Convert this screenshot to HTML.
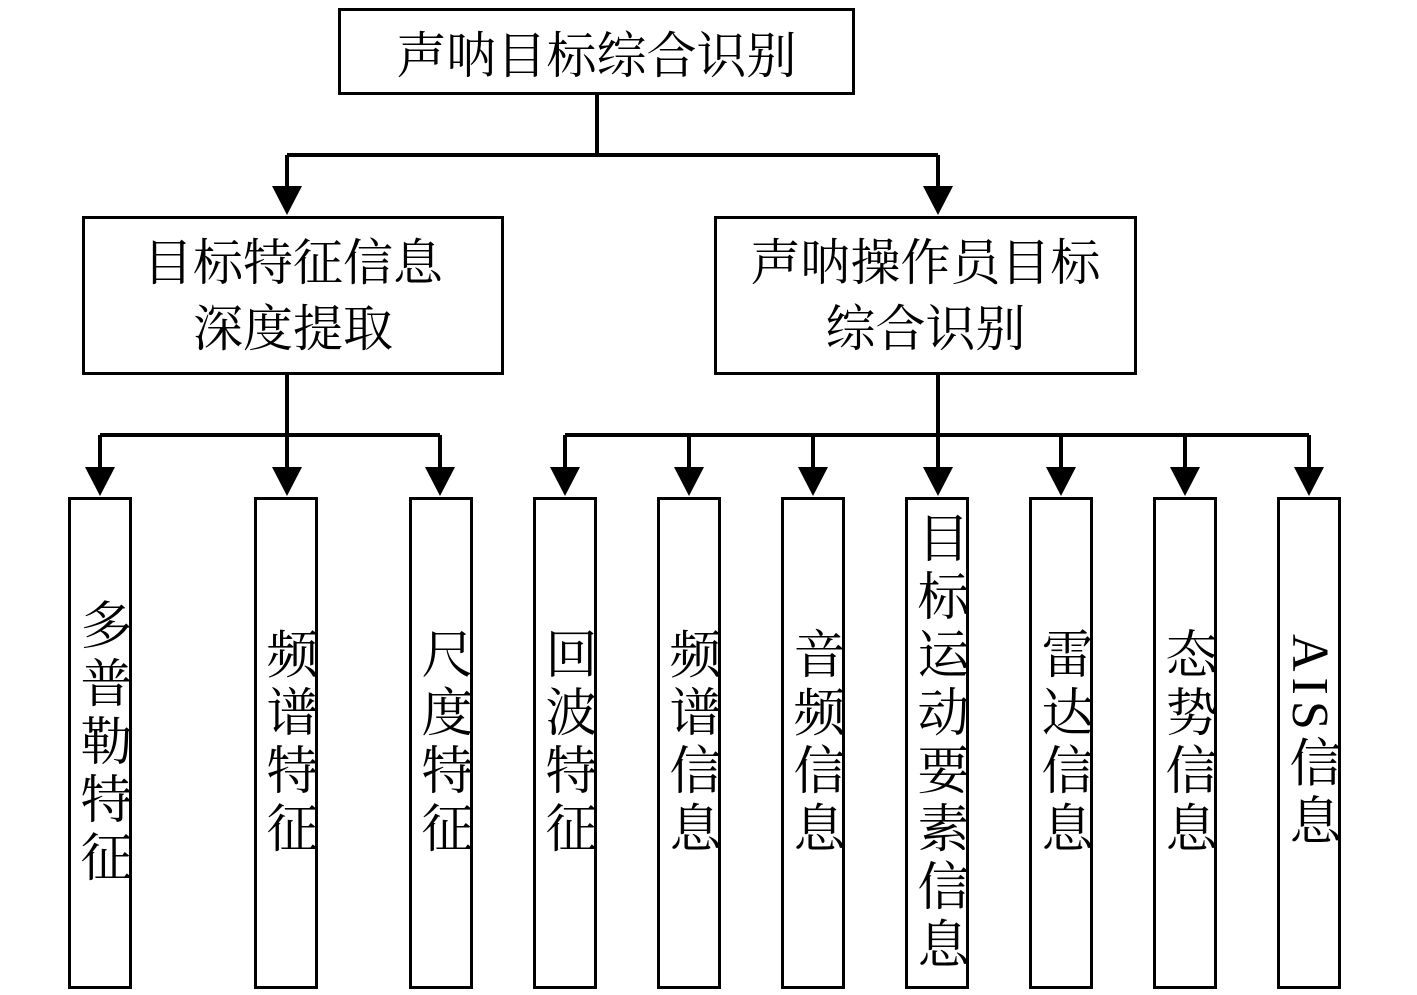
<!DOCTYPE html>
<html><head><meta charset="utf-8"><style>
body{margin:0;width:1417px;height:995px;background:#fff;position:relative;overflow:hidden;font-family:"Liberation Serif","Noto Serif CJK SC",serif;}
.b{position:absolute;border:3.5px solid #000;box-sizing:border-box;display:flex;align-items:center;justify-content:center;text-align:center;color:#000;}
.v{writing-mode:vertical-rl;text-orientation:mixed;font-size:52px;line-height:62px;letter-spacing:6px;}
svg{position:absolute;left:0;top:0;}
</style></head><body>
<svg width="1417" height="995">
<g stroke="#000" stroke-width="4" fill="none">
<path d="M597 93V155M287 155H938M287 155V190M938 155V190"/>
<path d="M287 374V435M100 435H440M100 435V470M287 435V470M440 435V470"/>
<path d="M938 374V470M565 435H1309M565 435V470M689 435V470M813 435V470M1061 435V470M1185 435V470M1309 435V470"/>
</g>
<g fill="#000">
<polygon points="272,186 302,186 287,215"/><polygon points="923,186 953,186 938,215"/>
<polygon points="85,467 115,467 100,496"/><polygon points="272,467 302,467 287,496"/><polygon points="425,467 455,467 440,496"/>
<polygon points="550,467 580,467 565,496"/><polygon points="674,467 704,467 689,496"/><polygon points="798,467 828,467 813,496"/><polygon points="923,467 953,467 938,496"/><polygon points="1046,467 1076,467 1061,496"/><polygon points="1170,467 1200,467 1185,496"/><polygon points="1294,467 1324,467 1309,496"/>
</g></svg>
<div class="b" style="left:338px;top:8px;width:517px;height:87px;font-size:50px;">声呐目标综合识别</div>
<div class="b" style="left:82px;top:216px;width:422px;height:159px;font-size:50px;line-height:66px;">目标特征信息<br>深度提取</div>
<div class="b" style="left:714px;top:216px;width:423px;height:159px;font-size:50px;line-height:66px;">声呐操作员目标<br>综合识别</div>
<div class="b" style="left:68px;top:497px;width:64px;height:492px;"><span class="v">多普勒特征</span></div>
<div class="b" style="left:254px;top:497px;width:64px;height:492px;"><span class="v">频谱特征</span></div>
<div class="b" style="left:409px;top:497px;width:64px;height:492px;"><span class="v">尺度特征</span></div>
<div class="b" style="left:533px;top:497px;width:64px;height:492px;"><span class="v">回波特征</span></div>
<div class="b" style="left:657px;top:497px;width:64px;height:492px;"><span class="v">频谱信息</span></div>
<div class="b" style="left:781px;top:497px;width:64px;height:492px;"><span class="v">音频信息</span></div>
<div class="b" style="left:905px;top:497px;width:64px;height:492px;"><span class="v" style="line-height:58px;letter-spacing:6px;">目标运动要素信息</span></div>
<div class="b" style="left:1029px;top:497px;width:64px;height:492px;"><span class="v">雷达信息</span></div>
<div class="b" style="left:1153px;top:497px;width:64px;height:492px;"><span class="v">态势信息</span></div>
<div class="b" style="left:1277px;top:497px;width:64px;height:492px;"><span class="v">AIS信息</span></div>
</body></html>
